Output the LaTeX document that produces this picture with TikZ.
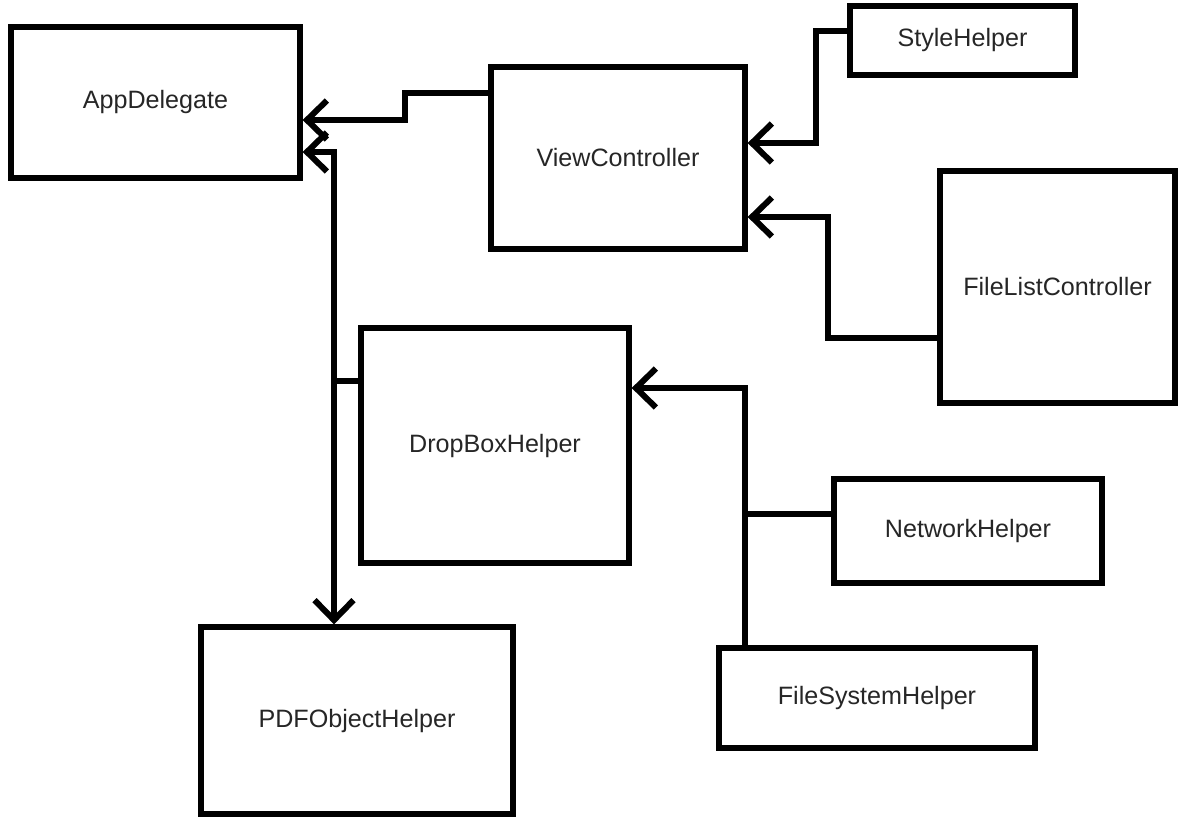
\documentclass[tikz,border=0pt]{standalone}
\usepackage{fontspec}
\setmainfont{Liberation Sans}
\usepackage{tikz}
\usetikzlibrary{arrows.meta}

\begin{document}
\begin{tikzpicture}[x=0.02cm, y=-0.02cm,
  box/.style={draw, line width=3pt, fill=white, inner sep=0pt, font=\fontsize{14.3}{16}\selectfont, text=black!85},
  wire/.style={line width=3pt},
  link/.style={wire, -{Straight Barb[length=0.4cm,width=0.78cm,line width=3.4pt]}}]
  \useasboundingbox (0,0) rectangle (1179,818);
  % classes
  \node[box,minimum width=289*0.02cm,minimum height=151*0.02cm] (AD) at (155.5,102.5) {AppDelegate};
  \node[box,minimum width=254*0.02cm,minimum height=182*0.02cm] (VC) at (618,158) {ViewController};
  \node[box,minimum width=225*0.02cm,minimum height=69*0.02cm] (SH) at (962.5,40.5) {StyleHelper};
  \node[box,minimum width=235*0.02cm,minimum height=232*0.02cm] (FLC) at (1057.5,287) {FileListController};
  \node[box,minimum width=268*0.02cm,minimum height=235*0.02cm] (DBH) at (495,445.5) {DropBoxHelper};
  \node[box,minimum width=268*0.02cm,minimum height=104*0.02cm] (NH) at (968,531) {NetworkHelper};
  \node[box,minimum width=316*0.02cm,minimum height=100*0.02cm] (FSH) at (877,698) {FileSystemHelper};
  \node[box,minimum width=312*0.02cm,minimum height=187*0.02cm] (PDF) at (357,720.5) {PDFObjectHelper};
  % branch points
  \coordinate (dbj) at (334,381);
  \coordinate (hj) at (745,514);
  % connectors
  \draw[link] (VC.west |- 0,93) -| (405,120) -- (AD.east |- 0,120);
  \draw[wire] (DBH.west |- dbj) -- (dbj);
  \draw[link] (dbj) |- (AD.east |- 0,152);
  \draw[link] (dbj) -- (PDF.north -| dbj);
  \draw[link] (SH.west |- 0,31) -| (816,143) -- (VC.east |- 0,143);
  \draw[link] (FLC.west |- 0,338) -| (828,217) -- (VC.east |- 0,217);
  \draw[link] (FSH.north -| hj) |- (DBH.east |- 0,388);
  \draw[wire] (hj) -- (NH.west |- hj);
\end{tikzpicture}
\end{document}
